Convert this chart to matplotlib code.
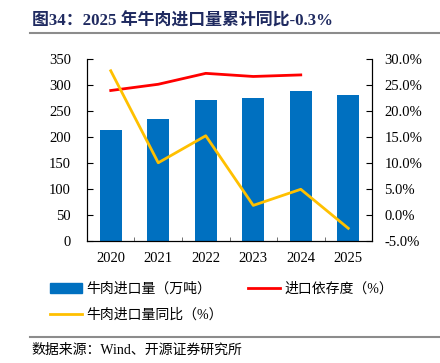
import matplotlib
matplotlib.use("Agg")
import matplotlib.pyplot as plt
from matplotlib.patches import Patch
from matplotlib.lines import Line2D

years = ["2020", "2021", "2022", "2023", "2024", "2025"]
import_volume = [214, 235, 271, 276, 289, 282]          # 万吨
dependency = [24.0, 25.2, 27.3, 26.7, 27.0]             # %, 2020-2024
yoy = [27.8, 10.1, 15.3, 1.9, 5.0, -2.5]                # %

left_ticks = [0, 50, 100, 150, 200, 250, 300, 350]
right_ticks = [-5, 0, 5, 10, 15, 20, 25, 30]

BLUE = "#0070C0"
RED = "#FF0000"
YELLOW = "#FFC000"
CJK = ["Liberation Serif", "Noto Sans CJK SC", "DejaVu Sans"]

plt.rcParams["font.family"] = CJK

fig = plt.figure(figsize=(4.4, 3.63), dpi=100)
ax = fig.add_axes([0.1977, 0.3353, 0.6478, 0.5013])
ax2 = ax.twinx()

x = list(range(len(years)))
ax.bar(x, import_volume, width=0.46, color=BLUE, zorder=2)
ax.set_ylim(0, 350)
ax.set_yticks(left_ticks)
ax.set_xlim(-0.5, len(years) - 0.5)
ax.set_xticks(x)
ax.set_xticklabels(years)
ax.set_xticks([i + 0.5 for i in x[:-1]], minor=True)
ax.tick_params(axis="x", which="major", length=0, pad=8, labelsize=10.5)
ax.tick_params(axis="x", which="minor", length=3, direction="in", color="#595959")
ax.tick_params(axis="y", direction="in", length=4, labelsize=10.5, pad=11.5)

ax2.plot(x[:len(dependency)], dependency, color=RED, lw=2, zorder=3)
ax2.plot(x, yoy, color=YELLOW, lw=2, zorder=3)
ax2.set_ylim(-5, 30)
ax2.set_yticks(right_ticks)
ax2.set_yticklabels([f"{v:.1f}%" for v in right_ticks])
ax2.tick_params(axis="y", direction="in", length=4, labelsize=10.5, pad=9)

for a in (ax, ax2):
    a.spines["top"].set_visible(False)
    for s in ("left", "right", "bottom"):
        a.spines[s].set_color("#000000")
        a.spines[s].set_linewidth(0.8)

# title
fig.text(0.072, 0.941, "图34：2025 年牛肉进口量累计同比-0.3%", fontsize=12.2,
         fontweight="bold", color="#1F2A60", va="center", ha="left", family=CJK)
fig.add_artist(Line2D([0.068, 1.0], [0.909, 0.909], color="#8C8C8C", lw=1.5))

# legend
handles = [Patch(facecolor=BLUE, edgecolor=BLUE),
           Line2D([], [], color=YELLOW, lw=2),
           Line2D([], [], color=RED, lw=2)]
labels = ["牛肉进口量（万吨）", "牛肉进口量同比（%）", "进口依存度（%）"]
fig.legend(handles, labels, ncol=2, loc="upper left", bbox_to_anchor=(0.086, 0.257),
           frameon=False, handlelength=2.3, handleheight=0.7,
           columnspacing=1.8, labelspacing=0.91, handletextpad=0.3,
           prop={"family": CJK, "size": 10})

fig.add_artist(Line2D([0.068, 1.0], [0.0716, 0.0716], color="#8C8C8C", lw=1.5))
fig.text(0.072, 0.036, "数据来源：Wind、开源证券研究所", fontsize=10, color="#000000",
         va="center", ha="left", family=CJK)

fig.savefig("out.png", dpi=100)
